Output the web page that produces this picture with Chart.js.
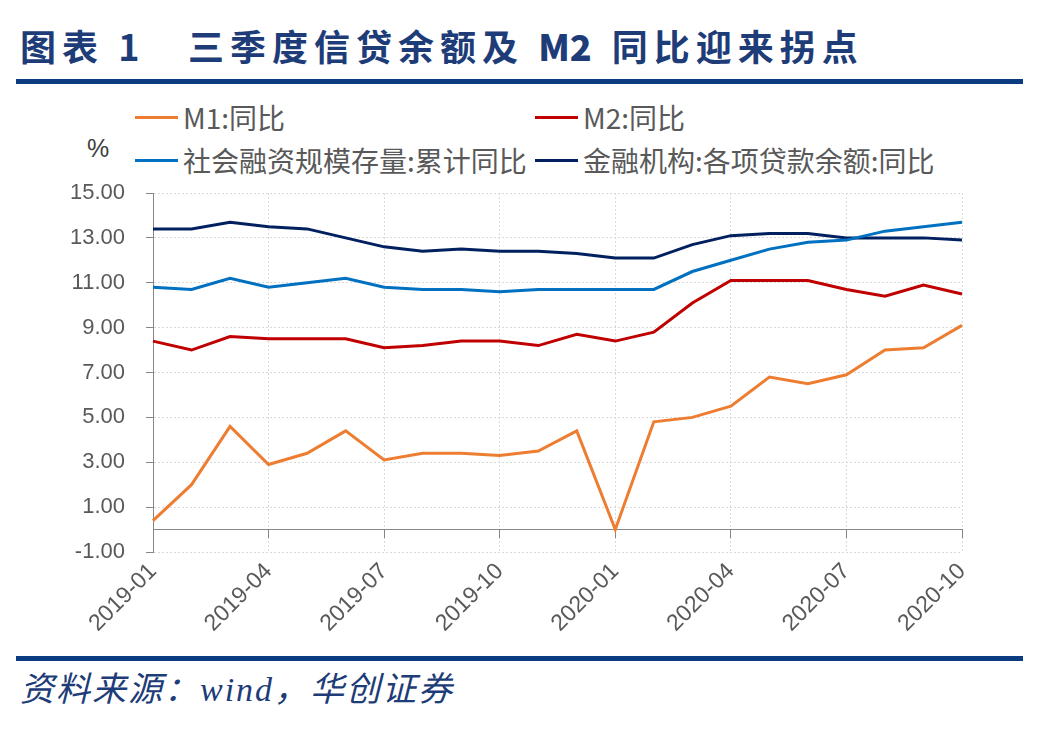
<!DOCTYPE html>
<html>
<head>
<meta charset="utf-8">
<script src="https://cdn.jsdelivr.net/npm/chart.js@4.4.0/dist/chart.umd.min.js"></script>
<style>
  body { margin: 0; width: 1043px; height: 731px; background: #fff; position: relative; overflow: hidden; font-family: "Noto Sans CJK SC", sans-serif; }
  .bar { position: absolute; left: 16px; width: 1007px; height: 5px; background: #0b3b80; }
  .title { position: absolute; top: 22px; font-size: 36px; font-weight: 700; color: #1d3c78; letter-spacing: 6px; line-height: 46px; white-space: nowrap; }
  .title b { letter-spacing: 0; margin-right: 6px; }
  .source { position: absolute; left: 20px; top: 668px; font-family: "Liberation Serif", "Noto Sans CJK SC", serif; font-style: italic; font-size: 34px; letter-spacing: 2px; color: #1d3c78; line-height: 44px; white-space: nowrap; }
  .unit { position: absolute; left: 87px; top: 134px; font-family: "Liberation Sans", sans-serif; font-size: 25px; color: #404040; }
  .lg { position: absolute; height: 34px; display: flex; align-items: center; font-size: 28px; color: #595959; white-space: nowrap; }
  .lg i { display: inline-block; width: 43px; height: 3px; margin-right: 5px; }
  #chart { position: absolute; left: 0; top: 150px; }
</style>
</head>
<body>
<div class="title" style="left:20px">图表 1</div>
<div class="title" style="left:188px">三季度信贷余额及 <b>M2</b> 同比迎来拐点</div>
<div class="bar" style="top:79px"></div>

<div class="lg" style="left:135px; top:100px"><i style="background:#ed7d31"></i>M1:同比</div>
<div class="lg" style="left:535px; top:100px"><i style="background:#c00000"></i>M2:同比</div>
<div class="lg" style="left:135px; top:143px"><i style="background:#0070c0"></i>社会融资规模存量:累计同比</div>
<div class="lg" style="left:535px; top:143px"><i style="background:#002060"></i>金融机构:各项贷款余额:同比</div>
<div class="unit">%</div>

<canvas id="chart" width="1043" height="500"></canvas>

<div class="bar" style="top:656px"></div>
<div class="source">资料来源：wind，华创证券</div>

<script>
// monthly data, 2019-01 .. 2020-10 (%)
const months = ["2019-01", "2019-02", "2019-03", "2019-04", "2019-05", "2019-06",
    "2019-07", "2019-08", "2019-09", "2019-10", "2019-11", "2019-12",
    "2020-01", "2020-02", "2020-03", "2020-04", "2020-05", "2020-06",
    "2020-07", "2020-08", "2020-09", "2020-10"];
const m1Yoy = [0.4, 2.0, 4.6, 2.9, 3.4, 4.4, 3.1, 3.4, 3.4, 3.3, 3.5, 4.4,
    0.0, 4.8, 5.0, 5.5, 6.8, 6.5, 6.9, 8.0, 8.1, 9.1];
const m2Yoy = [8.4, 8.0, 8.6, 8.5, 8.5, 8.5, 8.1, 8.2, 8.4, 8.4, 8.2, 8.7,
    8.4, 8.8, 10.1, 11.1, 11.1, 11.1, 10.7, 10.4, 10.9, 10.5];
const tsfYoy = [10.8, 10.7, 11.2, 10.8, 11.0, 11.2, 10.8, 10.7, 10.7, 10.6, 10.7, 10.7,
    10.7, 10.7, 11.5, 12.0, 12.5, 12.8, 12.9, 13.3, 13.5, 13.7];
const loanYoy = [13.4, 13.4, 13.7, 13.5, 13.4, 13.0, 12.6, 12.4, 12.5, 12.4, 12.4, 12.3,
    12.1, 12.1, 12.7, 13.1, 13.2, 13.2, 13.0, 13.0, 13.0, 12.9];
const yTicks = [-1, 1, 3, 5, 7, 9, 11, 13, 15];

const axisGrey = "#868686";
const gridGrey = "#d9d9d9";
const labelFont = { family: "Liberation Sans", size: 22 };
const isQuarter = i => i % 3 === 0;

function line(label, data, color) {
    return { label, data, borderColor: color, backgroundColor: color, borderWidth: 3, pointRadius: 0, tension: 0 };
}

new Chart(document.getElementById("chart"), {
    type: "line",
    data: {
        labels: months,
        datasets: [
            line("M1:同比", m1Yoy, "#ed7d31"),
            line("M2:同比", m2Yoy, "#c00000"),
            line("社会融资规模存量:累计同比", tsfYoy, "#0070c0"),
            line("金融机构:各项贷款余额:同比", loanYoy, "#002060")
        ]
    },
    options: {
        responsive: false,
        animation: false,
        layout: { padding: { top: 43, right: 81, left: 0, bottom: 0 } },
        plugins: { legend: { display: false }, tooltip: { enabled: false } },
        scales: {
            x: {
                grid: {
                    color: c => (c.index > 0 && isQuarter(c.index)) ? gridGrey : "rgba(0,0,0,0)",
                    drawTicks: false
                },
                border: { display: false, dash: [2, 2] },
                ticks: {
                    autoSkip: false, minRotation: 45, maxRotation: 45, padding: 6,
                    color: "#595959", font: { family: "Liberation Sans", size: 23 },
                    callback: (v, i) => isQuarter(i) ? months[i] : ""
                },
                afterFit: s => { s.height = 98; }
            },
            // zero line with quarter tick marks
            x2: {
                type: "category",
                axis: "x",
                position: { y: 0 },
                grid: {
                    drawOnChartArea: false, tickLength: 8, tickWidth: 1,
                    tickColor: c => isQuarter(c.index) ? axisGrey : "rgba(0,0,0,0)"
                },
                border: { color: axisGrey, width: 1 },
                ticks: { display: false }
            },
            y: {
                min: -1,
                max: 15,
                afterBuildTicks: s => { s.ticks = yTicks.map(v => ({ value: v })); },
                ticks: { padding: 21, color: "#595959", font: labelFont, callback: v => v.toFixed(2) },
                grid: { color: gridGrey, tickColor: axisGrey, tickLength: 7 },
                border: { color: axisGrey, dash: [2, 2] },
                afterFit: s => { s.width = 153; }
            }
        }
    }
});
</script>
</body>
</html>
